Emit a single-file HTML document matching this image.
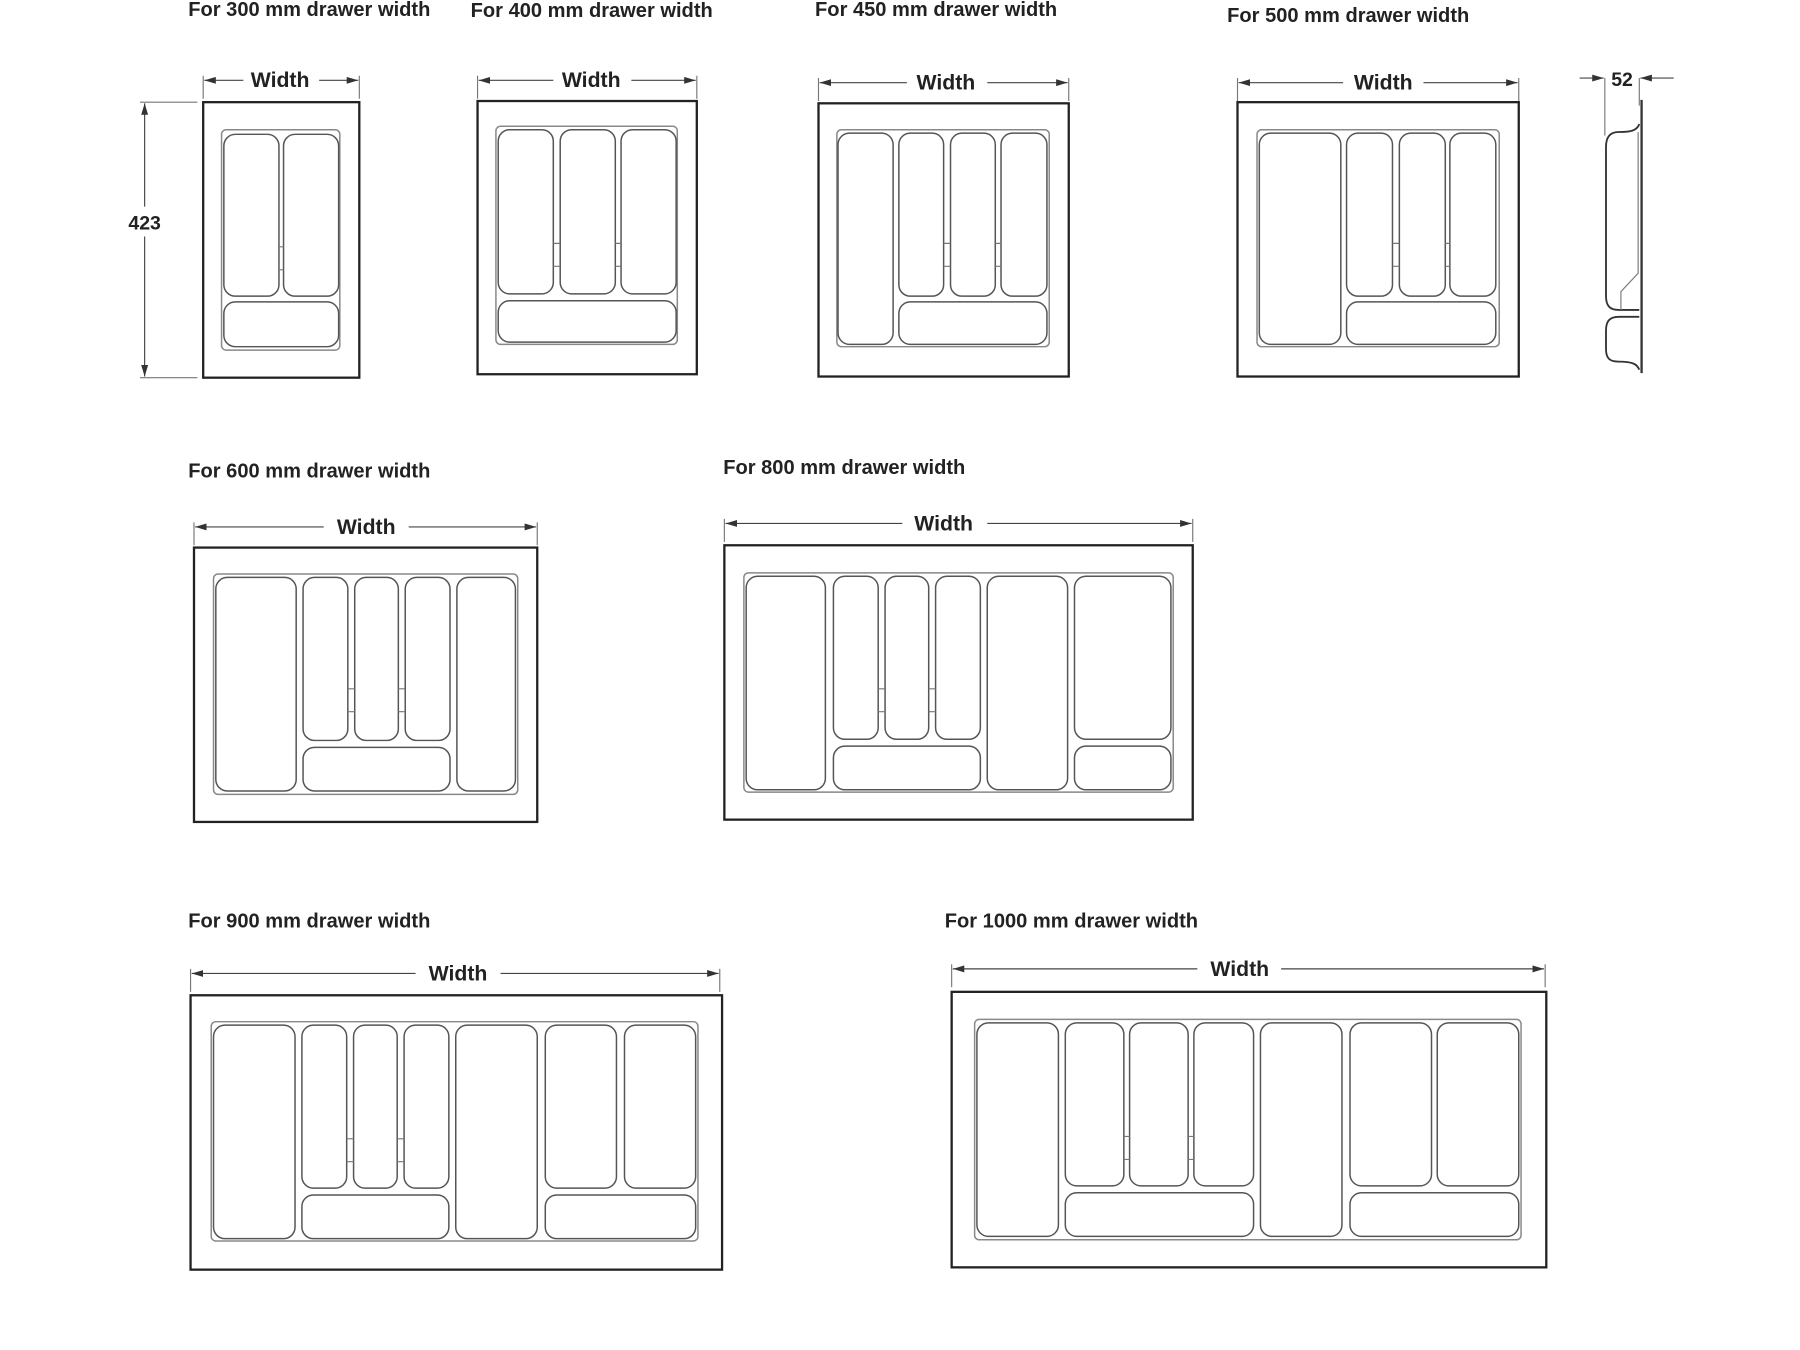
<!DOCTYPE html>
<html><head><meta charset="utf-8"><style>
html,body{margin:0;padding:0;background:#fff;width:1800px;height:1350px;overflow:hidden}
svg{display:block}
.t{font-family:"Liberation Sans",sans-serif;font-weight:bold;font-size:17.5px;fill:#222}
.w{font-family:"Liberation Sans",sans-serif;font-weight:bold;font-size:18.5px;fill:#222}
.o{fill:none;stroke:#222;stroke-width:2}
.f{fill:none;stroke:#888;stroke-width:1.3}
.c{fill:#fff;stroke:#555;stroke-width:1.3}
.d{stroke:#444;stroke-width:1;fill:none}
.e{stroke:#777;stroke-width:1;fill:none}
</style></head><body>
<svg width="1800" height="1350" viewBox="0 0 1568 1176" preserveAspectRatio="none" xmlns="http://www.w3.org/2000/svg">
<defs>
<marker id="a" viewBox="0 0 10 6" refX="10" refY="3" markerWidth="10" markerHeight="6" orient="auto" markerUnits="userSpaceOnUse"><path d="M0,0 L10,3 L0,6z" fill="#333"/></marker>
</defs>

<text class="t" x="164" y="14">For 300 mm drawer width</text>
<text class="t" x="410" y="15">For 400 mm drawer width</text>
<text class="t" x="710" y="14">For 450 mm drawer width</text>
<text class="t" x="1069" y="19">For 500 mm drawer width</text>
<text class="t" x="164" y="416">For 600 mm drawer width</text>
<text class="t" x="630" y="413">For 800 mm drawer width</text>
<text class="t" x="164" y="808">For 900 mm drawer width</text>
<text class="t" x="823" y="808">For 1000 mm drawer width</text>

<g>
<path class="e" d="M177,66V86M313,66V86"/><path class="d" d="M212,70H178" marker-end="url(#a)"/><path class="d" d="M278,70H312" marker-end="url(#a)"/>
<text class="w" x="244" y="76" text-anchor="middle">Width</text>
<path class="e" d="M416,66V86M607,66V86"/><path class="d" d="M482,70H417" marker-end="url(#a)"/><path class="d" d="M550,70H606" marker-end="url(#a)"/>
<text class="w" x="515" y="76" text-anchor="middle">Width</text>
<path class="e" d="M713,68V88M931,68V88"/><path class="d" d="M790,72H714" marker-end="url(#a)"/><path class="d" d="M860,72H930" marker-end="url(#a)"/>
<text class="w" x="824" y="78" text-anchor="middle">Width</text>
<path class="e" d="M1078,68V88M1323,68V88"/><path class="d" d="M1170,72H1079" marker-end="url(#a)"/><path class="d" d="M1240,72H1322" marker-end="url(#a)"/>
<text class="w" x="1205" y="78" text-anchor="middle">Width</text>
<path class="e" d="M169,455V475M468,455V475"/><path class="d" d="M282,459H170" marker-end="url(#a)"/><path class="d" d="M356,459H467" marker-end="url(#a)"/>
<text class="w" x="319" y="465" text-anchor="middle">Width</text>
<path class="e" d="M631,452V472M1039,452V472"/><path class="d" d="M786,456H632" marker-end="url(#a)"/><path class="d" d="M860,456H1038" marker-end="url(#a)"/>
<text class="w" x="822" y="462" text-anchor="middle">Width</text>
<path class="e" d="M166,844V864M627,844V864"/><path class="d" d="M362,848H167" marker-end="url(#a)"/><path class="d" d="M436,848H626" marker-end="url(#a)"/>
<text class="w" x="399" y="854" text-anchor="middle">Width</text>
<path class="e" d="M829,840V860M1346,840V860"/><path class="d" d="M1043,844H830" marker-end="url(#a)"/><path class="d" d="M1116,844H1345" marker-end="url(#a)"/>
<text class="w" x="1080" y="850" text-anchor="middle">Width</text>
</g>

<path class="e" d="M122,89H172M122,329H172"/>
<path class="d" d="M126,180V90" marker-end="url(#a)"/><path class="d" d="M126,206V328" marker-end="url(#a)"/>
<text class="w" x="126" y="200" text-anchor="middle" style="font-size:17px">423</text>

<rect class="o" x="177" y="89" width="136" height="240"/>
<rect class="f" x="193" y="113" width="103" height="192" rx="4"/>
<rect class="c" x="195" y="117" width="48" height="141" rx="10"/>
<rect class="c" x="247" y="117" width="48" height="141" rx="10"/>
<rect class="c" x="195" y="263" width="100" height="39" rx="10"/>
<path class="e" d="M243,215h4M243,235h4"/>

<rect class="o" x="416" y="88" width="191" height="238"/>
<rect class="f" x="432" y="110" width="158" height="190" rx="4"/>
<rect class="c" x="434" y="113" width="48" height="143" rx="10"/>
<rect class="c" x="488" y="113" width="48" height="143" rx="10"/>
<rect class="c" x="541" y="113" width="48" height="143" rx="10"/>
<rect class="c" x="434" y="262" width="155" height="36" rx="10"/>
<path class="e" d="M482,212h6M482,232h6M536,212h5M536,232h5"/>

<rect class="o" x="713" y="90" width="218" height="238"/>
<rect class="f" x="729" y="113" width="185" height="189" rx="4"/>
<rect class="c" x="730" y="116" width="48" height="184" rx="10"/>
<rect class="c" x="783" y="116" width="39" height="142" rx="10"/>
<rect class="c" x="828" y="116" width="39" height="142" rx="10"/>
<rect class="c" x="872" y="116" width="40" height="142" rx="10"/>
<rect class="c" x="783" y="263" width="129" height="37" rx="10"/>
<path class="e" d="M822,212h6M822,232h6M867,212h5M867,232h5"/>

<rect class="o" x="1078" y="89" width="245" height="239"/>
<rect class="f" x="1095" y="113" width="211" height="189" rx="4"/>
<rect class="c" x="1097" y="116" width="71" height="184" rx="10"/>
<rect class="c" x="1173" y="116" width="40" height="142" rx="10"/>
<rect class="c" x="1219" y="116" width="40" height="142" rx="10"/>
<rect class="c" x="1263" y="116" width="40" height="142" rx="10"/>
<rect class="c" x="1173" y="263" width="130" height="37" rx="10"/>
<path class="e" d="M1213,212h6M1213,232h6M1259,212h4M1259,232h4"/>

<path class="e" d="M1398,68V118M1428,68V92"/>
<path class="d" d="M1376,68H1397" marker-end="url(#a)"/><path class="d" d="M1458,68H1429" marker-end="url(#a)"/>
<text class="w" x="1413" y="75" text-anchor="middle" style="font-size:17px">52</text>
<path d="M1430,87V325" stroke="#333" stroke-width="2" fill="none"/>
<path d="M1428,108C1426,114 1420,115 1410,115C1402,115 1399,120 1399,128V258C1399,266 1402,270 1410,270H1428M1428,276H1410C1402,276 1399,280 1399,288V304C1399,312 1402,315 1410,315C1422,315 1426,317 1428,322" stroke="#333" stroke-width="1.6" fill="none"/>
<path d="M1427,115V238L1412,254V270" stroke="#777" stroke-width="1" fill="none"/>

<rect class="o" x="169" y="477" width="299" height="239"/>
<rect class="f" x="186" y="500" width="265" height="192" rx="4"/>
<rect class="c" x="188" y="503" width="70" height="186" rx="10"/>
<rect class="c" x="264" y="503" width="39" height="142" rx="10"/>
<rect class="c" x="309" y="503" width="38" height="142" rx="10"/>
<rect class="c" x="353" y="503" width="39" height="142" rx="10"/>
<rect class="c" x="264" y="651" width="128" height="38" rx="10"/>
<rect class="c" x="398" y="503" width="51" height="186" rx="10"/>
<path class="e" d="M303,600h6M303,620h6M347,600h6M347,620h6"/>

<rect class="o" x="631" y="475" width="408" height="239"/>
<rect class="f" x="648" y="499" width="374" height="191" rx="4"/>
<rect class="c" x="650" y="502" width="69" height="186" rx="10"/>
<rect class="c" x="726" y="502" width="39" height="142" rx="10"/>
<rect class="c" x="771" y="502" width="38" height="142" rx="10"/>
<rect class="c" x="815" y="502" width="39" height="142" rx="10"/>
<rect class="c" x="726" y="650" width="128" height="38" rx="10"/>
<rect class="c" x="860" y="502" width="70" height="186" rx="10"/>
<rect class="c" x="936" y="502" width="84" height="142" rx="10"/>
<rect class="c" x="936" y="650" width="84" height="38" rx="10"/>
<path class="e" d="M765,600h6M765,620h6M809,600h6M809,620h6"/>

<rect class="o" x="166" y="867" width="463" height="239"/>
<rect class="f" x="184" y="890" width="424" height="191" rx="4"/>
<rect class="c" x="186" y="893" width="71" height="186" rx="10"/>
<rect class="c" x="263" y="893" width="39" height="142" rx="10"/>
<rect class="c" x="308" y="893" width="38" height="142" rx="10"/>
<rect class="c" x="352" y="893" width="39" height="142" rx="10"/>
<rect class="c" x="263" y="1041" width="128" height="38" rx="10"/>
<rect class="c" x="397" y="893" width="71" height="186" rx="10"/>
<rect class="c" x="475" y="893" width="62" height="142" rx="10"/>
<rect class="c" x="544" y="893" width="62" height="142" rx="10"/>
<rect class="c" x="475" y="1041" width="131" height="38" rx="10"/>
<path class="e" d="M302,992h6M302,1012h6M346,992h6M346,1012h6"/>

<rect class="o" x="829" y="864" width="518" height="240"/>
<rect class="f" x="849" y="888" width="476" height="192" rx="4"/>
<rect class="c" x="851" y="891" width="71" height="186" rx="10"/>
<rect class="c" x="928" y="891" width="51" height="142" rx="10"/>
<rect class="c" x="984" y="891" width="51" height="142" rx="10"/>
<rect class="c" x="1040" y="891" width="52" height="142" rx="10"/>
<rect class="c" x="928" y="1039" width="164" height="38" rx="10"/>
<rect class="c" x="1098" y="891" width="71" height="186" rx="10"/>
<rect class="c" x="1176" y="891" width="71" height="142" rx="10"/>
<rect class="c" x="1252" y="891" width="71" height="142" rx="10"/>
<rect class="c" x="1176" y="1039" width="147" height="38" rx="10"/>
<path class="e" d="M979,990h5M979,1010h5M1035,990h5M1035,1010h5"/>
</svg>
</body></html>
